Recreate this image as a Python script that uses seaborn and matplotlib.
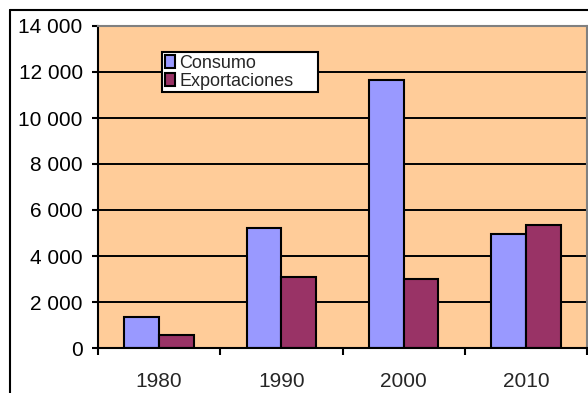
import matplotlib
matplotlib.use("Agg")
import matplotlib.pyplot as plt
import seaborn as sns
import pandas as pd
from matplotlib.ticker import FuncFormatter
from matplotlib.lines import Line2D

years = ["1980", "1990", "2000", "2010"]
consumo = [1350, 5200, 11650, 4950]
exportaciones = [570, 3100, 3000, 5350]
series = ["Consumo", "Exportaciones"]
colors = ["#9999FF", "#993366"]

df = pd.DataFrame({
    "year": years * 2,
    "valor": consumo + exportaciones,
    "serie": [series[0]] * 4 + [series[1]] * 4,
})

sns.set_style("white")
plt.rcParams["font.family"] = ["Liberation Sans", "DejaVu Sans"]

fig = plt.figure(figsize=(5.88, 3.93), dpi=100)
ax = fig.add_axes([98 / 588, 45 / 393, 489 / 588, 322 / 393])

sns.barplot(data=df, x="year", y="valor", hue="serie", palette=colors,
            saturation=1, edgecolor="black", linewidth=1.5, width=0.57, ax=ax)

ax.set_facecolor("#FFCC99")
ax.set_xlim(-0.5, 3.5)
ax.set_ylim(0, 14000)
ax.set_yticks(range(0, 14001, 2000))
ax.yaxis.set_major_formatter(FuncFormatter(lambda v, p: f"{int(v):,}".replace(",", " ")))
ax.grid(axis="y", color="black", linewidth=1.4)
ax.set_axisbelow(True)
ax.set_xlabel("")
ax.set_ylabel("")

for s in ["left", "bottom"]:
    ax.spines[s].set_color("black")
    ax.spines[s].set_linewidth(1.5)
for s in ["top", "right"]:
    ax.spines[s].set_color("#808080")
    ax.spines[s].set_linewidth(1.5)

ax.tick_params(axis="y", left=True, length=4, width=1.5, pad=7, labelsize=15, colors="black")
ax.tick_params(axis="x", which="major", length=0, pad=17, labelsize=15)
ax.set_xticks([-0.5, 0.5, 1.5, 2.5, 3.5], minor=True)
ax.tick_params(axis="x", which="minor", bottom=True, length=5, width=1.5, color="black")

handles, labels = ax.get_legend_handles_labels()
leg_w = 156 / 489
leg_h = 42 / 322
ax.legend(handles, labels, loc="upper left",
          bbox_to_anchor=(0.131, 0.919 - leg_h, leg_w, leg_h), mode="expand",
          borderaxespad=0, frameon=True, fancybox=False, edgecolor="black",
          facecolor="white", framealpha=1, fontsize=13, handlelength=0.55,
          handleheight=0.7, handletextpad=0.25, labelspacing=0.05, borderpad=0.15)
ax.get_legend().get_frame().set_linewidth(1.5)

# outer chart frame
fig.add_artist(Line2D([10 / 588, 10 / 588], [0, 1 - 10 / 393], color="black", lw=1.5))
fig.add_artist(Line2D([10 / 588, 1], [1 - 10 / 393, 1 - 10 / 393], color="black", lw=1.5))

fig.savefig("out.png", dpi=100)
